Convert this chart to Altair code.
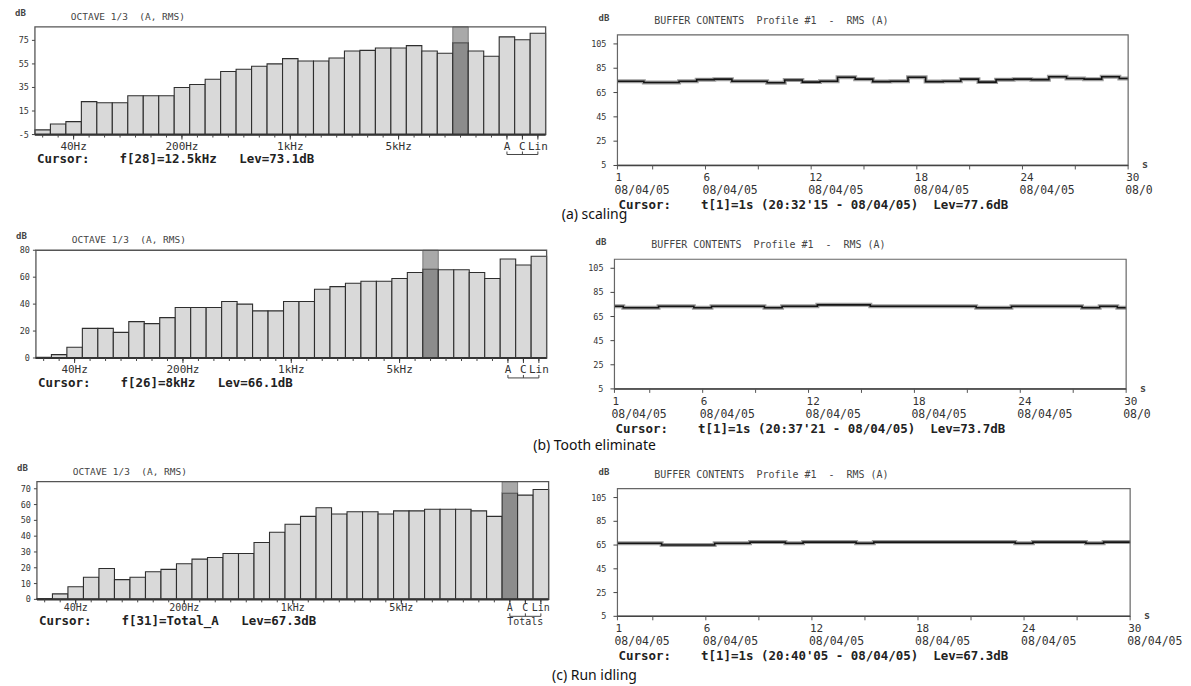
import altair as alt
import pandas as pd

MONO = "DejaVu Sans Mono"
SANS = "Noto Sans"
CW, RH = 583, 228
NB = "\u00a0"

# ---------------- data ----------------
band_tick_pos = [3, 10, 17, 24, 31, 32, 33]
band_tick_txt = ["40Hz", "200Hz", "1kHz", "5kHz", "A", "C", "Lin"]

spec_a = [-1, 4, 6, 23, 22, 22, 28, 28, 28, 35, 37.5, 42, 48.5, 50.5, 53, 55, 59.5,
          57.5, 57.5, 60, 66, 66.5, 68.5, 68.5, 70.5, 66, 64, 73.1, 66, 61.5, 78, 75.5, 81]
spec_b = [0.5, 2.5, 8, 22, 22, 19, 27, 25.5, 30, 37.5, 37.5, 37.5, 42, 40, 35, 35, 42,
          42, 51, 53, 55.5, 57, 57, 59, 63.5, 66.1, 65.5, 65.5, 63.5, 59, 73.5, 69, 75.5]
spec_c = [0.5, 3.5, 8, 14, 19.5, 12.5, 14, 17.5, 19, 22.5, 25.5, 26.5, 29, 29, 36, 42.5, 47.5,
          52.5, 58, 54, 55.5, 55.5, 54, 56, 56, 57, 57, 57, 56, 52.5, 67.3, 66, 69.5]

sec = list(range(1, 31))
buf_a = [74.3, 74.3, 73.3, 73.3, 74.3, 75.6, 76, 74.3, 74.3, 73, 75.3, 73.6, 74.3, 77.6, 76,
         74, 74.3, 77.6, 74, 74.3, 76, 73.6, 75.6, 76, 75.6, 78, 76.6, 76, 78, 76.6]
buf_b = [73.5, 72.3, 72.3, 73.5, 73.5, 72.3, 73.5, 73.5, 73.5, 72.3, 73.5, 73.5, 74.7, 74.7, 74.7,
         73.5, 73.5, 73.5, 73.5, 73.5, 73.5, 72.3, 72.3, 73.5, 73.5, 73.5, 73.5, 72.3, 73.5, 72.3]
buf_c = [66.5, 66.5, 66.5, 65, 65, 65, 66.5, 66.5, 67.5, 67.5, 66.5, 67.5, 67.5, 67.5, 66.5,
         67.5, 67.5, 67.5, 67.5, 67.5, 67.5, 67.5, 67.5, 66.5, 67.5, 67.5, 67.5, 66.5, 67.5, 67.5]

sec_tick_pos = [1, 6, 12, 18, 24, 30]
sec_tick_txt = ["1", "6", "12", "18", "24", "30"]
sec_minor = [1, 3, 6, 9, 12, 15, 18, 21, 24, 27, 30]
dates_a = ["08/04/05", "08/04/05", "08/04/05", "08/04/05", "08/04/05", "08/0"]
dates_b = ["08/04/05", "08/04/05", "08/04/05", "08/04/05", "08/04/05", "08/0"]
dates_c = ["08/04/05", "08/04/05", "08/04/05", "08/04/05", "08/04/05", "08/04/05"]
buf_y_ticks = [5, 25, 45, 65, 85, 105]

bar_title = "OCTAVE 1/3  (A, RMS)"
buf_title = "BUFFER CONTENTS  Profile #1  -  RMS (A)"
cursor_left = ["Cursor:    f[28]=12.5kHz   Lev=73.1dB",
               "Cursor:    f[26]=8kHz   Lev=66.1dB",
               "Cursor:    f[31]=Total_A   Lev=67.3dB"]
cursor_right = ["Cursor:    t[1]=1s (20:32'15 - 08/04/05)  Lev=77.6dB",
                "Cursor:    t[1]=1s (20:37'21 - 08/04/05)  Lev=73.7dB",
                "Cursor:    t[1]=1s (20:40'05 - 08/04/05)  Lev=67.3dB"]
captions = ["(a) scaling", "(b) Tooth eliminate", "(c) Run idling"]

# ---------------- layout (cell-local pixels) ----------------
LEFT = [
    dict(vals=spec_a, cur=28, ydom=[-5, 86.5], yticks=[-5, 15, 35, 55, 75], fx=[27, 539], fy=[18, 126],
         totals=False, cap_y=207, lab_dy=12, lab_fs=11, cur_dy=25),
    dict(vals=spec_b, cur=26, ydom=[0, 80], yticks=[0, 20, 40, 60, 80], fx=[28, 540], fy=[14, 122],
         totals=False, cap_y=210, lab_dy=12, lab_fs=11, cur_dy=25),
    dict(vals=spec_c, cur=31, ydom=[0, 74.5], yticks=[0, 10, 20, 30, 40, 50, 60, 70], fx=[29, 542], fy=[18, 136],
         totals=True, cap_y=213, lab_dy=9, lab_fs=10, cur_dy=22),
]
RIGHT = [
    dict(vals=buf_a, dates=dates_a, fx=[28, 540], fy=[26, 157]),
    dict(vals=buf_b, dates=dates_b, fx=[25, 538], fy=[23, 153]),
    dict(vals=buf_c, dates=dates_c, fx=[28, 542], fy=[25, 153]),
]


def keep_spaces(s):
    return s.replace(" ", NB)


def text_layer(txt, x, y, size=12.5, font=MONO, weight="normal", color="#333", align="left"):
    return alt.Chart(pd.DataFrame({"s": [keep_spaces(txt)]})).mark_text(
        font=font, fontSize=size, fontWeight=weight, color=color, align=align, baseline="middle"
    ).encode(text="s:N", x=alt.value(x), y=alt.value(y))


def y_guides(ticks, ys, fx0, size=8.5, gap=5, tick_len=3):
    d = pd.DataFrame({"v": ticks, "s": [str(t) for t in ticks]})
    labs = alt.Chart(d).mark_text(font=MONO, fontSize=size, color="#333", align="right", baseline="middle").encode(
        y=alt.Y("v:Q", scale=ys, axis=None), x=alt.value(fx0 - gap), text="s:N")
    tks = alt.Chart(d).mark_rule(color="#444", strokeWidth=1).encode(
        y=alt.Y("v:Q", scale=ys, axis=None), x=alt.value(fx0 - tick_len), x2=alt.value(fx0))
    return [labs, tks]


def bar_panel(p, cursor_txt, caption):
    n = len(p["vals"])
    idx = list(range(1, n + 1))
    df = pd.DataFrame({"i": idx, "v": p["vals"]})
    df["lo"] = df["i"] - 0.5
    df["hi"] = df["i"] + 0.5
    df["cur"] = df["i"] == p["cur"]
    y0, y1 = p["ydom"]
    fx0, fx1 = p["fx"]
    fy0, fy1 = p["fy"]
    xs = alt.Scale(domain=[0.5, n + 0.5], range=[fx0, fx1], nice=False, zero=False)
    ys = alt.Scale(domain=[y0, y1], range=[fy1, fy0], nice=False, zero=False)
    X = lambda f: alt.X(f, scale=xs, axis=None)
    Y = lambda f: alt.Y(f, scale=ys, axis=None)

    bars = alt.Chart(df).mark_rect(stroke="#2e2e2e", strokeWidth=1.1).encode(
        x=X("lo:Q"), x2="hi:Q", y=Y("v:Q"), y2=alt.datum(y0),
        fill=alt.condition("datum.cur", alt.value("#8c8c8c"), alt.value("#d9d9d9")))
    hl = alt.Chart(df[df["cur"]]).mark_rect(fill="#a9a9a9", stroke="#666", strokeWidth=0.8).encode(
        x=X("lo:Q"), x2="hi:Q", y=Y("v:Q"), y2=alt.datum(y1))
    fr = pd.DataFrame({"a": [0.5], "b": [n + 0.5], "c": [y0], "d": [y1]})
    frame = alt.Chart(fr).mark_rect(fillOpacity=0, stroke="#555", strokeWidth=1.3).encode(
        x=X("a:Q"), x2="b:Q", y=Y("c:Q"), y2="d:Q")
    base_line = alt.Chart(fr).mark_rule(color="#333", strokeWidth=2.2).encode(
        x=X("a:Q"), x2="b:Q", y=Y("c:Q"))
    minor = alt.Chart(df).mark_rule(color="#444", strokeWidth=1).encode(
        x=X("i:Q"), y=alt.value(fy1), y2=alt.value(fy1 + 3))
    lab = pd.DataFrame({"i": band_tick_pos, "s": band_tick_txt})
    major = alt.Chart(lab).mark_rule(color="#333", strokeWidth=1).encode(
        x=X("i:Q"), y=alt.value(fy1), y2=alt.value(fy1 + 5))
    xlabs = alt.Chart(lab).mark_text(font=MONO, fontSize=p["lab_fs"], color="#333", baseline="middle").encode(
        x=X("i:Q"), y=alt.value(fy1 + p["lab_dy"]), text="s:N")
    br = pd.DataFrame({"a": [band_tick_pos[4]], "b": [band_tick_pos[6]]})
    br_y = fy1 + p["lab_dy"] + 8
    br_h = alt.Chart(br).mark_rule(color="#444", strokeWidth=1).encode(
        x=X("a:Q"), x2="b:Q", y=alt.value(br_y))
    br_v = alt.Chart(pd.DataFrame({"a": band_tick_pos[4:]})).mark_rule(color="#444", strokeWidth=1).encode(
        x=X("a:Q"), y=alt.value(br_y - 3), y2=alt.value(br_y))
    layers = [bars, hl, frame, base_line, minor, major, xlabs, br_h, br_v]
    layers += y_guides(p["yticks"], ys, fx0, size=8.5, gap=6)
    layers += [text_layer("dB", fx0 - 20, fy0 - 14, size=9, weight="bold", color="#444"),
               text_layer(bar_title, fx0 + 36, fy0 - 10, size=9.5, color="#444"),
               text_layer(cursor_txt, fx0 + 2, fy1 + p["cur_dy"], size=12.5, weight="bold", color="#222"),
               text_layer(caption, 588, p["cap_y"], size=14, font=SANS, color="#111", align="center")]
    if p["totals"]:
        layers.append(alt.Chart(pd.DataFrame({"a": [band_tick_pos[5]], "s": ["Totals"]})).mark_text(
            font=MONO, fontSize=10, color="#333", baseline="middle").encode(
            x=X("a:Q"), y=alt.value(br_y + 6), text="s:N"))
    return alt.layer(*layers).properties(width=CW, height=RH)


def line_panel(p, cursor_txt):
    df = pd.DataFrame({"t": sec, "v": p["vals"]})
    fx0, fx1 = p["fx"]
    fy0, fy1 = p["fy"]
    xs = alt.Scale(domain=[1, 30], range=[fx0, fx1], nice=False, zero=False)
    ys = alt.Scale(domain=[5, 112.5], range=[fy1, fy0], nice=False, zero=False)
    X = lambda f: alt.X(f, scale=xs, axis=None)
    Y = lambda f: alt.Y(f, scale=ys, axis=None)

    under = alt.Chart(df).mark_line(interpolate="step", color="#9c9c9c", strokeWidth=4).encode(
        x=X("t:Q"), y=Y("v:Q"))
    line = alt.Chart(df).mark_line(interpolate="step", color="#151515", strokeWidth=1.6).encode(
        x=X("t:Q"), y=Y("v:Q"))
    fr = pd.DataFrame({"a": [1], "b": [30], "c": [5], "d": [112.5]})
    frame = alt.Chart(fr).mark_rect(fillOpacity=0, stroke="#666", strokeWidth=1.2).encode(
        x=X("a:Q"), x2="b:Q", y=Y("c:Q"), y2="d:Q")
    base_line = alt.Chart(fr).mark_rule(color="#444", strokeWidth=1.5).encode(
        x=X("a:Q"), x2="b:Q", y=Y("c:Q"))
    tk = pd.DataFrame({"t": sec_minor})
    xt = alt.Chart(tk).mark_rule(color="#555", strokeWidth=1).encode(
        x=X("t:Q"), y=alt.value(fy1), y2=alt.value(fy1 + 4))
    lab = pd.DataFrame({"t": sec_tick_pos, "n": sec_tick_txt, "d": p["dates"]})
    nums = alt.Chart(lab).mark_text(font=MONO, fontSize=11, color="#333", align="left", baseline="middle", dx=-2).encode(
        x=X("t:Q"), y=alt.value(fy1 + 13), text="n:N")
    dts = alt.Chart(lab).mark_text(font=MONO, fontSize=11.5, color="#333", align="left", baseline="middle", dx=-3).encode(
        x=X("t:Q"), y=alt.value(fy1 + 26), text="d:N")
    layers = [under, line, frame, base_line, xt, nums, dts]
    layers += y_guides(buf_y_ticks, ys, fx0, size=8.5, gap=11, tick_len=4)
    layers += [text_layer("dB", fx0 - 19, fy0 - 17, size=9, weight="bold", color="#444"),
               text_layer(buf_title, fx0 + 37, fy0 - 14, size=10, color="#444"),
               text_layer(cursor_txt, fx0 + 1, fy1 + 40, size=12.5, weight="bold", color="#222"),
               text_layer("s", fx1 + 14, fy1, size=10, weight="bold", color="#444")]
    return alt.layer(*layers).properties(width=CW, height=RH)


cells = []
for r in range(3):
    cells.append(bar_panel(LEFT[r], cursor_left[r], captions[r]))
    cells.append(line_panel(RIGHT[r], cursor_right[r]))

chart = alt.concat(*cells, columns=2, spacing=0, bounds="flush").properties(
    padding=0, background="white"
).configure_view(strokeWidth=0)

chart.save("out.html", embed_options={"renderer": "svg", "actions": False})
